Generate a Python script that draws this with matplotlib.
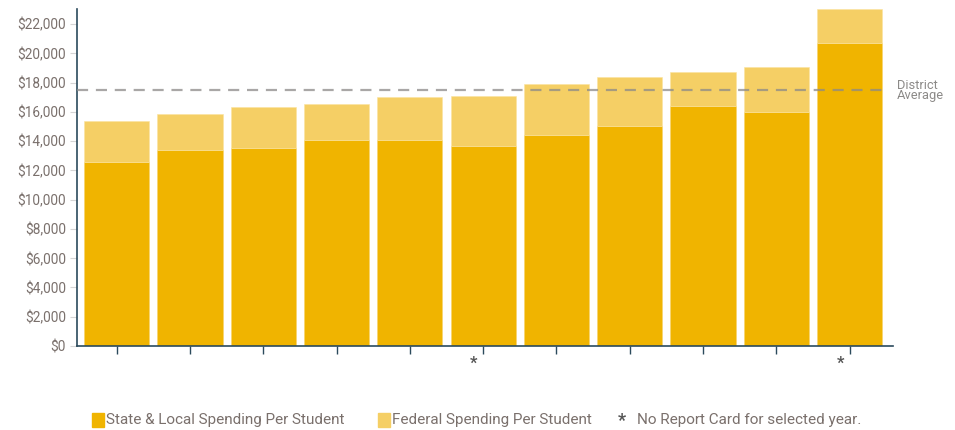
import numpy as np
import matplotlib
matplotlib.use('Agg')
import matplotlib.pyplot as plt
from matplotlib.patches import Rectangle
from matplotlib.ticker import FuncFormatter

# spending per student, 11 schools
state_local = [12550, 13390, 13550, 14050, 14070, 13660, 14420, 15030, 16400, 16010, 20700]
total = [15390, 15870, 16300, 16530, 16990, 17080, 17900, 18360, 18740, 19040, 23050]
federal = [t - s for t, s in zip(total, state_local)]
no_report = [5, 10]          # bars flagged with *
district_avg = 17470

c_state = '#F0B400'
c_fed = '#F5CF65'
c_axis = '#2B4A5C'
c_text = '#7A706C'

plt.rcParams['font.family'] = ['Roboto', 'DejaVu Sans']

fig = plt.figure(figsize=(9.55, 4.30), dpi=100)
ax = fig.add_axes([77/955, 1 - 346/430, (893 - 77)/955, (346 - 9)/430])

x = np.arange(len(state_local))
ax.bar(x, state_local, width=0.89, color=c_state, edgecolor='#F7D36A', linewidth=0.4)
ax.bar(x, federal, bottom=state_local, width=0.89, color=c_fed, edgecolor='#FBE3A0', linewidth=0.4)

# district average line
ax.plot([-0.54, 10.45], [district_avg, district_avg], ls=(0, (5, 3.5)), color='#8C8A88',
        alpha=0.75, lw=1.6, zorder=3)
ax.text(10.64, district_avg, 'District\nAverage', fontsize=9.3, color='#8C8A88',
        va='center', ha='left', linespacing=0.75, clip_on=False)

ax.set_xlim(-0.54, 10.59)
ax.set_ylim(0, 23030)
ax.set_yticks(np.arange(0, 22001, 2000))
ax.yaxis.set_major_formatter(FuncFormatter(lambda v, p: '${:,.0f}'.format(v)))
ax.tick_params(axis='y', length=5, color='#D5D5D5', labelcolor=c_text, labelsize=9.8, pad=3)
ax.set_xticks(x)
ax.set_xticklabels([])
ax.tick_params(axis='x', length=6, color=c_axis, width=1)

for s in ['top', 'right']:
    ax.spines[s].set_visible(False)
ax.spines['left'].set_color(c_axis)
ax.spines['bottom'].set_color(c_axis)
ax.spines['left'].set_linewidth(1.2)
ax.spines['bottom'].set_linewidth(1.2)

# asterisks under bars with no report card
for i in no_report:
    ax.text(i - 0.13, -650, '*', ha='center', va='top', fontsize=12, color='#555555',
            fontweight='bold', clip_on=False)

# legend, drawn by hand
ly = 1 - 420/430
fs = 11
fig.patches.append(Rectangle((92/955, ly - 7/430), 12/955, 14/430, transform=fig.transFigure,
                             color=c_state))
fig.text(106/955, ly, 'State & Local Spending Per Student', fontsize=fs, color=c_text, va='center')
fig.patches.append(Rectangle((378/955, ly - 7/430), 12/955, 14/430, transform=fig.transFigure,
                             color=c_fed))
fig.text(392/955, ly, 'Federal Spending Per Student', fontsize=fs, color=c_text, va='center')
fig.text(622/955, ly - 1/430, '*', fontsize=13, color='#555555', fontweight='bold',
         ha='center', va='center')
fig.text(637/955, ly, 'No Report Card for selected year.', fontsize=fs, color=c_text, va='center')

plt.savefig('out.png', dpi=100)
